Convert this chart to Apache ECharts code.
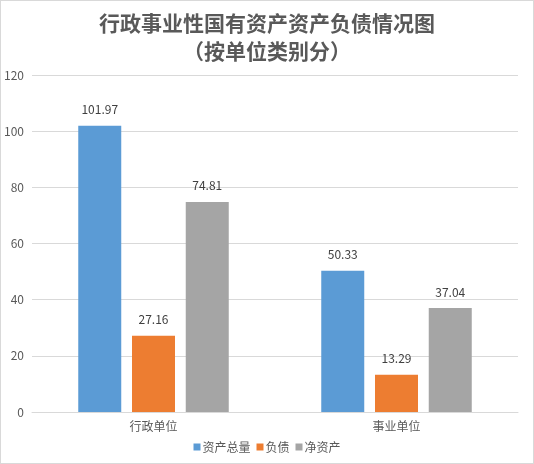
<!DOCTYPE html>
<html>
<head>
<meta charset="utf-8">
<script src="https://cdn.jsdelivr.net/npm/echarts@6/dist/echarts.min.js"></script>
<style>
  html, body { margin: 0; padding: 0; background: #fff; }
  #chart { width: 534px; height: 464px; box-sizing: border-box; border: 1px solid #d9d9d9; }
</style>
</head>
<body>
<div id="chart"></div>
<script>
const categories = ['行政单位', '事业单位'];
const seriesNames = ['资产总量', '负债', '净资产'];
const totalAssets = [101.97, 50.33];
const liabilities = [27.16, 13.29];
const netAssets = [74.81, 37.04];
const colors = ['#5b9bd5', '#ed7d31', '#a5a5a5'];

const chart = echarts.init(document.getElementById('chart'));
const textColor = '#595959';
const font = '"Noto Sans CJK SC", "Microsoft YaHei", sans-serif';

function makeSeries(name, data, color) {
  return {
    name: name,
    type: 'bar',
    data: data,
    barWidth: 43,
    barGap: '25%',
    itemStyle: { color: color },
    label: {
      show: true,
      position: 'top',
      distance: 10,
      color: '#404040',
      fontSize: 12,
      fontFamily: font,
      formatter: p => p.value.toFixed(2)
    }
  };
}

chart.setOption({
  textStyle: { fontFamily: font },
  title: {
    text: '行政事业性国有资产资产负债情况图\n（按单位类别分）',
    left: 'center',
    top: 3,
    textStyle: {
      color: textColor,
      fontSize: 21,
      fontWeight: 'bold',
      lineHeight: 28,
      fontFamily: font
    }
  },
  legend: {
    bottom: 5,
    left: 'center',
    itemWidth: 7,
    itemHeight: 7,
    itemGap: 6,
    icon: 'rect',
    textStyle: { color: textColor, fontSize: 12, padding: [0, 0, 0, -3] },
    data: seriesNames
  },
  grid: { left: 31, right: 15, top: 74, bottom: 51, outerBoundsMode: 'none', containLabel: false },
  xAxis: {
    type: 'category',
    data: categories,
    axisLine: { lineStyle: { color: '#d9d9d9' } },
    axisTick: { show: false },
    axisLabel: { color: textColor, fontSize: 12, margin: 8 }
  },
  yAxis: {
    type: 'value',
    min: 0,
    max: 120,
    interval: 20,
    axisLine: { show: false },
    axisTick: { show: false },
    splitLine: { lineStyle: { color: '#d9d9d9' } },
    axisLabel: { color: textColor, fontSize: 12, margin: 8 }
  },
  series: [
    makeSeries(seriesNames[0], totalAssets, colors[0]),
    makeSeries(seriesNames[1], liabilities, colors[1]),
    makeSeries(seriesNames[2], netAssets, colors[2])
  ]
});
</script>
</body>
</html>
